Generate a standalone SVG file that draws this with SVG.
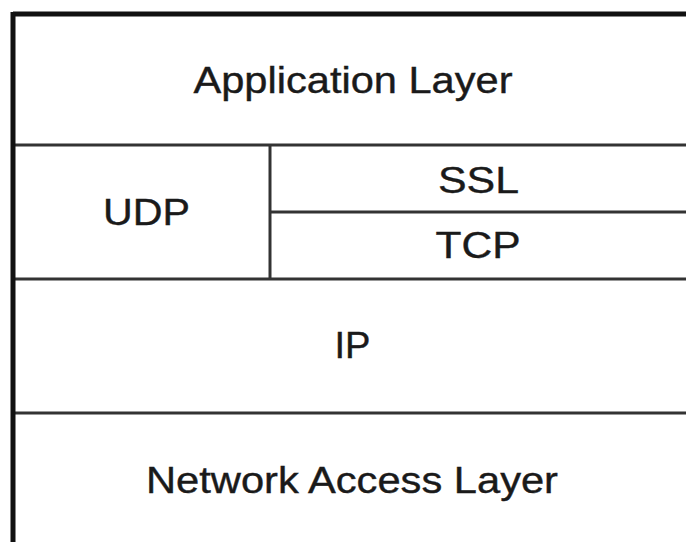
<svg xmlns="http://www.w3.org/2000/svg" width="686" height="542" viewBox="0 0 686 542">
<style>
.t{font-family:"Liberation Sans",Arial,sans-serif;font-size:37px;fill:#1a1a1a;stroke:#1a1a1a;stroke-width:0.4;text-anchor:middle}
.ln{stroke:#333;stroke-width:3;fill:none}
.bd{stroke:#111;stroke-width:5;fill:none}
</style>
<rect width="686" height="542" fill="#fff"/>
<g id="connectors">
<line class="ln" x1="13" y1="145" x2="686" y2="145"/>
<line class="ln" x1="270" y1="145" x2="270" y2="279"/>
<line class="ln" x1="270" y1="212" x2="686" y2="212"/>
<line class="ln" x1="13" y1="279" x2="686" y2="279"/>
<line class="ln" x1="13" y1="413" x2="686" y2="413"/>
<line class="bd" x1="13" y1="14" x2="686" y2="14"/>
<line class="bd" x1="13" y1="12" x2="13" y2="542"/>
</g>
<g id="application"><text class="t" x="353" y="93" textLength="319" lengthAdjust="spacingAndGlyphs">Application Layer</text></g>
<g id="udp"><text class="t" x="146.5" y="225" textLength="87" lengthAdjust="spacingAndGlyphs">UDP</text></g>
<g id="ssl"><text class="t" x="478.5" y="193" textLength="81" lengthAdjust="spacingAndGlyphs">SSL</text></g>
<g id="tcp"><text class="t" x="478" y="258" textLength="85" lengthAdjust="spacingAndGlyphs">TCP</text></g>
<g id="ip"><text class="t" x="352.5" y="358" textLength="36" lengthAdjust="spacingAndGlyphs">IP</text></g>
<g id="network"><text class="t" x="352" y="493" textLength="412" lengthAdjust="spacingAndGlyphs">Network Access Layer</text></g>
</svg>
